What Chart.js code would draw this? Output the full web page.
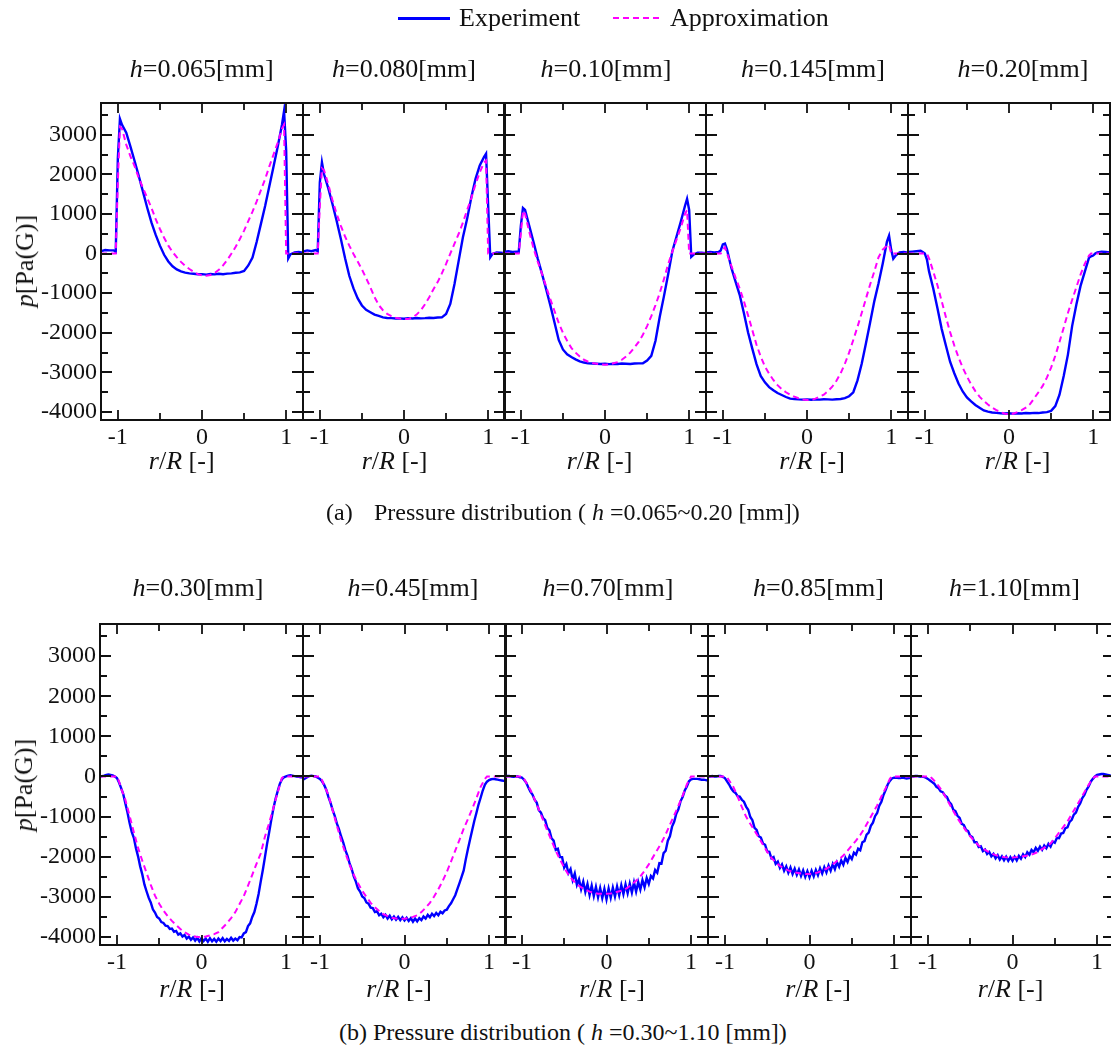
<!DOCTYPE html>
<html><head><meta charset="utf-8">
<script src="https://cdn.jsdelivr.net/npm/chart.js@4.4.0/dist/chart.umd.min.js"></script>
<style>
html,body{margin:0;padding:0;background:#fff;overflow:hidden;}
body{width:1111px;height:1052px;position:relative;font-family:"Liberation Serif","Times New Roman",serif;color:#111;}
.t{position:absolute;white-space:pre;line-height:1;font-family:"Liberation Serif","Times New Roman",serif;}
canvas{position:absolute;}
</style></head><body>
<script>
// ---- data ----
// coarse radial grid r/R (top-row experiments and all approximations)
const r = [-1.2,-1.15,-1.1,-1.05,-1.025,-1.0,-0.975,
  -0.95,-0.9,-0.85,-0.8,-0.75,-0.7,-0.65,-0.6,-0.55,
  -0.5,-0.45,-0.4,-0.35,-0.3,-0.25,-0.2,-0.15,-0.1,
  -0.05,0,0.05,0.1,0.15,0.2,0.25,0.3,0.35,
  0.4,0.45,0.5,0.55,0.6,0.65,0.7,0.75,0.8,
  0.85,0.9,0.95,
  0.975,1.0,1.025,1.05,1.1,1.15,1.2];
// fine radial grid r/R (noisy bottom-row experiments)
const rFine = [-1.2,-1.175,-1.15,-1.125,-1.1,-1.075,-1.05,-1.025,
  -1,-0.975,-0.95,-0.925,-0.9,-0.875,-0.85,-0.825,
  -0.8,-0.775,-0.75,-0.725,-0.7,-0.675,-0.65,-0.625,
  -0.6,-0.575,-0.55,-0.525,-0.5,-0.475,-0.45,-0.425,
  -0.4,-0.375,-0.35,-0.325,-0.3,-0.275,-0.25,-0.225,
  -0.2,-0.175,-0.15,-0.125,-0.1,-0.075,-0.05,-0.025,
  0,0.025,0.05,0.075,0.1,0.125,0.15,0.175,
  0.2,0.225,0.25,0.275,0.3,0.325,0.35,0.375,
  0.4,0.425,0.45,0.475,0.5,0.525,0.55,0.575,
  0.6,0.625,0.65,0.675,0.7,0.725,0.75,0.775,
  0.8,0.825,0.85,0.875,0.9,0.925,0.95,0.975,
  1,1.025,1.05,1.075,1.1,1.125,1.15,1.175,
  1.2];

const exp065 = [60,90,80,80,40,2400,3400, 3250,3050,2700,2330,1950,1550,1150,780,470, 200,-30,-200,-320,-400,-450,-480,-500,-510, -520,-520,-530,-515,-525,-510,-520,-505,-500, -485,-475,-440,-300,-100,300,750,1200,1700, 2200,2700,3250, 3600,2600,-120,-20,30,40,20];
const app065 = [0,0,0,0,0,1800,3200, 3150,2750,2450,2200,1900,1650,1400,1150,870, 620,400,200,40,-90,-210,-310,-390,-460, -520,-550,-560,-540,-490,-410,-300,-160,0, 170,370,580,820,1060,1320,1600,1880,2200, 2500,2800,3150, 3250,0,0,0,0,0,0];
const exp080 = [50,80,60,90,60,1800,2300, 2000,1650,1250,820,370,-120,-560,-880,-1130, -1310,-1420,-1480,-1540,-1575,-1610,-1625,-1630,-1640, -1635,-1645,-1630,-1640,-1625,-1635,-1630,-1620,-1625, -1615,-1610,-1524,-1270,-766,-177,413,876,1423, 1886,2223,2433, 2518,1200,-90,-10,30,20,10];
const app080 = [0,0,0,0,0,1200,2150, 2100,1750,1350,1000,700,430,200,-10,-200, -400,-620,-850,-1100,-1300,-1430,-1520,-1580,-1620, -1640,-1650,-1650,-1610,-1540,-1430,-1280,-1100,-900, -720,-500,-260,0,250,500,780,1100,1400, 1750,2050,2300, 2350,0,0,0,0,0,0];
const exp10 = [40,60,40,50,40,700,1150, 1100,700,300,-120,-500,-890,-1300,-1740,-2180, -2420,-2540,-2610,-2670,-2720,-2750,-2770,-2775,-2780, -2785,-2780,-2790,-2780,-2785,-2775,-2780,-2785,-2775, -2770,-2770,-2700,-2580,-2200,-1600,-1080,-530,60, 430,800,1200, 1380,1100,-80,-30,20,20,10];
const app10 = [0,0,0,0,0,500,1080, 1000,550,140,-200,-500,-830,-1150,-1450,-1750, -2000,-2200,-2380,-2500,-2600,-2680,-2730,-2760,-2780, -2800,-2805,-2800,-2770,-2740,-2680,-2600,-2500,-2370, -2230,-2050,-1830,-1580,-1300,-1000,-650,-270,50, 350,650,1000, 1100,0,0,0,0,0,0];
const exp145 = [30,40,30,40,80,230,250, 100,-350,-700,-1040,-1500,-1990,-2400,-2790,-3090, -3250,-3370,-3450,-3520,-3570,-3620,-3660,-3670,-3680, -3685,-3680,-3690,-3680,-3685,-3675,-3680,-3685,-3675, -3670,-3650,-3600,-3500,-3200,-2780,-2270,-1740,-1200, -750,-250,300, 450,100,-130,-60,30,40,20];
const app145 = [0,0,0,0,0,100,160, 0,-300,-600,-880,-1200,-1560,-1930,-2300,-2600, -2850,-3030,-3190,-3320,-3420,-3500,-3560,-3610,-3650, -3680,-3695,-3690,-3660,-3610,-3560,-3470,-3360,-3210, -3020,-2780,-2500,-2180,-1850,-1500,-1140,-780,-450, -90,100,200, 220,0,0,0,0,0,0];
const exp20 = [40,50,60,70,40,0,-150, -450,-880,-1380,-1900,-2320,-2730,-3020,-3280,-3480, -3630,-3730,-3820,-3890,-3960,-3990,-4010,-4020,-4030, -4035,-4030,-4040,-4030,-4035,-4025,-4030,-4020,-4025, -4010,-4000,-3970,-3850,-3560,-3090,-2550,-1830,-1290, -815,-460,-107, -70,-50,0,30,50,40,30];
const app20 = [0,0,0,0,0,0,0, -120,-450,-800,-1200,-1600,-1980,-2320,-2620,-2880, -3100,-3300,-3470,-3610,-3720,-3810,-3890,-3950,-4000, -4040,-4050,-4040,-4000,-3950,-3890,-3800,-3650,-3500, -3340,-3130,-2880,-2580,-2230,-1870,-1500,-1170,-850, -530,-260,-50, 0,0,0,0,0,0,0];

const exp30 = [0,10,20,40,50,40,30,0,
  -40,-150,-290,-440,-670,-900,-1160,-1380,
  -1530,-1790,-1990,-2240,-2440,-2690,-2860,-3020,
  -3140,-3310,-3390,-3500,-3540,-3630,-3650,-3720,
  -3730,-3800,-3790,-3870,-3850,-3940,-3910,-3990,
  -3950,-4040,-3990,-4070,-4010,-4090,-4020,-4110,
  -4030,-4100,-4040,-4120,-4030,-4110,-4050,-4120,
  -4040,-4100,-4030,-4110,-4050,-4100,-4020,-4090,
  -4040,-4080,-4000,-4010,-3910,-3880,-3730,-3660,
  -3500,-3380,-3170,-2930,-2620,-2330,-2010,-1680,
  -1390,-1080,-800,-560,-370,-190,-74,-20,
  0,20,30,20,10,0,-10,-20,
  -20];
const app30 = [0,0,0,0,0,0,-120, -300,-580,-980,-1390,-1780,-2100,-2400,-2700,-2970, -3170,-3340,-3480,-3600,-3700,-3800,-3880,-3940,-3980, -4000,-4005,-3990,-3960,-3930,-3880,-3770,-3660,-3530, -3380,-3180,-2980,-2720,-2450,-2180,-1920,-1500,-1160, -780,-400,-40, 0,0,0,0,0,0,0];
const exp45 = [-80,-50,-20,10,20,10,0,-30,
  -60,-120,-210,-330,-510,-650,-830,-980,
  -1170,-1310,-1490,-1640,-1830,-1970,-2160,-2300,
  -2490,-2620,-2790,-2870,-2990,-3030,-3140,-3170,
  -3270,-3280,-3380,-3360,-3460,-3420,-3510,-3450,
  -3540,-3470,-3560,-3490,-3570,-3500,-3580,-3510,
  -3590,-3520,-3600,-3530,-3620,-3540,-3610,-3530,
  -3580,-3490,-3540,-3450,-3510,-3420,-3480,-3400,
  -3460,-3370,-3410,-3340,-3320,-3230,-3160,-3060,
  -2960,-2810,-2660,-2500,-2340,-2060,-1810,-1570,
  -1340,-1110,-910,-700,-530,-350,-210,-130,
  -90,-70,-60,-70,-80,-90,-100,-110,
  -120];
const app45 = [0,0,0,0,0,0,-90, -230,-450,-840,-1220,-1590,-1900,-2200,-2450,-2660, -2850,-3000,-3150,-3260,-3350,-3430,-3480,-3520,-3540, -3550,-3545,-3530,-3500,-3460,-3380,-3270,-3150,-2990, -2810,-2610,-2380,-2120,-1850,-1580,-1300,-1060,-810, -540,-260,-60, 0,0,0,0,0,0,0];
const exp70 = [0,10,10,0,-10,0,0,-20,
  -30,-80,-150,-270,-380,-450,-580,-650,
  -840,-900,-1040,-1090,-1280,-1340,-1540,-1600,
  -1830,-1800,-2010,-2010,-2270,-2180,-2410,-2310,
  -2580,-2420,-2700,-2560,-2810,-2620,-2880,-2680,
  -2950,-2720,-2980,-2750,-3010,-2780,-3030,-2800,
  -3060,-2790,-3020,-2770,-2990,-2740,-2960,-2710,
  -2930,-2690,-2910,-2670,-2890,-2640,-2870,-2630,
  -2820,-2580,-2760,-2530,-2680,-2480,-2540,-2330,
  -2400,-2160,-2170,-1910,-1850,-1600,-1490,-1250,
  -1130,-930,-820,-620,-510,-350,-250,-120,
  -70,-60,-60,-60,-70,-80,-80,-90,
  -100];
const app70 = [0,0,0,0,0,0,-60, -150,-330,-570,-820,-1080,-1350,-1600,-1850,-2070, -2270,-2450,-2580,-2690,-2760,-2820,-2870,-2900,-2920, -2925,-2925,-2915,-2890,-2860,-2840,-2770,-2690,-2600, -2490,-2350,-2190,-2010,-1830,-1650,-1440,-1200,-970, -730,-480,-200, -100,0,0,0,0,0,0];
const exp85 = [-10,0,10,0,0,10,10,-10,
  -40,-120,-200,-300,-370,-410,-490,-500,
  -580,-630,-750,-830,-1010,-1090,-1280,-1330,
  -1490,-1520,-1670,-1700,-1870,-1880,-2040,-2010,
  -2180,-2120,-2280,-2190,-2350,-2240,-2400,-2270,
  -2430,-2300,-2450,-2320,-2480,-2340,-2500,-2360,
  -2510,-2350,-2490,-2330,-2460,-2290,-2420,-2260,
  -2390,-2220,-2350,-2180,-2310,-2140,-2250,-2090,
  -2200,-2030,-2130,-1980,-2060,-1900,-1950,-1800,
  -1840,-1640,-1610,-1450,-1400,-1230,-1150,-990,
  -910,-730,-630,-460,-340,-200,-110,-50,
  -30,-30,-40,-40,-30,-40,-50,-40,
  -40];
const app85 = [0,0,0,0,0,0,-20, -100,-260,-500,-760,-1000,-1180,-1350,-1520,-1700, -1880,-2030,-2140,-2230,-2290,-2340,-2380,-2400,-2420, -2430,-2430,-2420,-2390,-2350,-2300,-2230,-2150,-2060, -1970,-1850,-1720,-1600,-1460,-1290,-1100,-910,-720, -500,-290,-60, 0,0,0,0,0,0,0];
const exp110 = [0,0,10,10,0,-10,-10,-30,
  -60,-100,-140,-180,-260,-290,-370,-390,
  -470,-510,-630,-690,-830,-860,-980,-1030,
  -1180,-1210,-1330,-1360,-1480,-1510,-1640,-1640,
  -1760,-1740,-1860,-1820,-1930,-1880,-1990,-1930,
  -2040,-1960,-2070,-1990,-2090,-2000,-2100,-2010,
  -2100,-2000,-2090,-1980,-2050,-1940,-2010,-1890,
  -1950,-1830,-1890,-1780,-1850,-1750,-1830,-1720,
  -1790,-1680,-1750,-1620,-1650,-1530,-1540,-1420,
  -1410,-1290,-1270,-1130,-1080,-950,-900,-760,
  -670,-540,-460,-330,-250,-130,-60,0,
  40,50,60,60,50,40,30,0,
  -30];
const app110 = [0,0,0,0,0,0,0, -50,-160,-310,-480,-670,-860,-1040,-1200,-1350, -1490,-1610,-1720,-1800,-1860,-1920,-1960,-1990,-2010, -2017,-2017,-2010,-2000,-1980,-1960,-1930,-1880,-1810, -1740,-1670,-1540,-1400,-1260,-1120,-940,-760,-580, -390,-210,-50, 0,0,0,0,0,0,0];

const hLabels = ['0.065','0.080','0.10','0.145','0.20','0.30','0.45','0.70','0.85','1.10'];
const yMajorTicks = [-4000,-3000,-2000,-1000,0,1000,2000,3000];
const yMinorTicks = [-3500,-2500,-1500,-500,500,1500,2500,3500];
const xMajorTicks = [-1,0,1];
const xMinorTicks = [-0.5,0.5];
const seriesNames = ['Experiment','Approximation'];

// ---- layout ----
const FONT = '"Liberation Serif", "Times New Roman", serif';
const rows = [
  {lefts:[101,303,504,706,908], pw:202, top:103, ph:317,
   titleX:[201.7,404,606,813,1023], titleTop:56,
   axX:[181.7,394.5,599.5,812,1017.5], axTop:448, yLab:[25.4,261]},
  {lefts:[100,303,505,708,911], pw:203, top:624, ph:321,
   titleX:[198,413,608,818.5,1014.5], titleTop:575,
   axX:[192,399,612,818,1010.5], axTop:976, yLab:[24.4,785]}
];
const expSets = [exp065,exp080,exp10,exp145,exp20,exp30,exp45,exp70,exp85,exp110];
const expGrid = [r,r,r,r,r,rFine,rFine,rFine,rFine,rFine];
const appSets = [app065,app080,app10,app145,app20,app30,app45,app70,app85,app110];

function text(html, left, top, size, extra){
  const d=document.createElement('div'); d.className='t';
  d.innerHTML=html; d.style.left=left+'px'; d.style.top=top+'px'; d.style.fontSize=size+'px';
  if(extra) d.style.cssText+=extra;
  document.body.appendChild(d); return d;
}

const framePlugin = {
  id:'frame',
  afterDraw(chart){
    const {ctx, chartArea:a, scales:{x,y}} = chart;
    ctx.save();
    ctx.strokeStyle='#111'; ctx.lineWidth=2;
    ctx.strokeRect(a.left, a.top, a.right-a.left, a.bottom-a.top);
    ctx.lineWidth=1.8;
    ctx.beginPath();
    const yt=(v,len)=>{const p=Math.round(y.getPixelForValue(v));
      ctx.moveTo(a.left,p); ctx.lineTo(a.left+len,p); ctx.moveTo(a.right,p); ctx.lineTo(a.right-len,p);};
    const xt=(v,len)=>{const p=Math.round(x.getPixelForValue(v));
      ctx.moveTo(p,a.top); ctx.lineTo(p,a.top+len); ctx.moveTo(p,a.bottom); ctx.lineTo(p,a.bottom-len);};
    yMajorTicks.forEach(v=>yt(v,11)); yMinorTicks.forEach(v=>yt(v,7));
    xMajorTicks.forEach(v=>xt(v,10)); xMinorTicks.forEach(v=>xt(v,7));
    ctx.stroke(); ctx.restore();
  }
};

const WY=80, RP=8, TP=24, XH=40;
function makePanel(idx){
  const row = idx<5?0:1, k = idx%5, R = rows[row];
  const L=R.lefts[k], pw=R.pw, ph=R.ph, T=R.top;
  const cv=document.createElement('canvas');
  cv.width=WY+pw+RP; cv.height=TP+ph+XH;
  cv.style.left=(L-WY)+'px'; cv.style.top=(T-TP)+'px';
  cv.style.width=cv.width+'px'; cv.style.height=cv.height+'px';
  document.body.appendChild(cv);
  const showY = (k===0);
  const eg = expGrid[idx];
  new Chart(cv,{
    type:'line',
    data:{datasets:[
      {label:seriesNames[1], data:r.map((v,i)=>({x:v,y:appSets[idx][i]})), borderColor:'#ff00ff', borderWidth:2, borderDash:[6,4], pointRadius:0, fill:false, tension:0},
      {label:seriesNames[0], data:eg.map((v,i)=>({x:v,y:expSets[idx][i]})), borderColor:'#0000ff', borderWidth:2.4, pointRadius:0, fill:false, tension:0}
    ]},
    options:{
      responsive:false, animation:false, devicePixelRatio:1, events:[],
      layout:{padding:{left:0,right:RP,top:TP,bottom:0}},
      plugins:{legend:{display:false}, tooltip:{enabled:false}},
      scales:{
        x:{type:'linear', min:-1.2, max:1.2,
          grid:{display:false, drawTicks:false}, border:{display:false},
          afterBuildTicks:s=>{s.ticks=xMajorTicks.map(v=>({value:v}));},
          afterFit:s=>{s.height=XH;},
          ticks:{padding:3, color:'#111', font:{family:FONT,size:24}, maxRotation:0, autoSkip:false, callback:v=>String(v)}},
        y:{type:'linear', min:-4200, max:3800,
          grid:{display:false, drawTicks:false}, border:{display:false},
          afterBuildTicks:s=>{s.ticks=yMajorTicks.map(v=>({value:v}));},
          afterFit:s=>{s.width=WY;},
          ticks:{display:showY, padding:4, color:'#111', font:{family:FONT,size:24}, autoSkip:false, callback:v=>String(v)}}
      }
    },
    plugins:[framePlugin]
  });
  text('<i>h</i>=' + hLabels[idx] + '[mm]', R.titleX[k], R.titleTop, 26, 'transform:translateX(-50%);');
  text('<i>r</i>/<i>R</i> [-]', R.axX[k], R.axTop, 26, 'transform:translateX(-50%);');
}

function build(){
  for(let i=0;i<10;i++) makePanel(i);
  rows.forEach(R=>{
    text('<i>p</i>[Pa(G)]', R.yLab[0], R.yLab[1], 26, 'transform:translate(-50%,-50%) rotate(-90deg);');
  });
  const l1=document.createElement('div'); l1.style.cssText='position:absolute;left:398px;top:17px;width:52px;height:2.5px;background:#0000ff;';
  document.body.appendChild(l1);
  const l2=document.createElement('div'); l2.style.cssText='position:absolute;left:613px;top:17px;width:50px;height:2px;background:repeating-linear-gradient(90deg,#ff00ff 0 6px,transparent 6px 10px);';
  document.body.appendChild(l2);
  text(seriesNames[0], 459, 5, 26);
  text(seriesNames[1], 670, 5, 26);
  text('(a)', 326, 500, 24);
  text('Pressure distribution ( <i>h</i> =0.065~0.20 [mm])', 374, 500, 24);
  text('(b) Pressure distribution ( <i>h</i> =0.30~1.10 [mm])', 339, 1020, 24);
}
Promise.all([
  document.fonts.load('24px "Liberation Serif"'),
  document.fonts.load('italic 24px "Liberation Serif"')
]).catch(()=>{}).then(build);
</script>
</body></html>
